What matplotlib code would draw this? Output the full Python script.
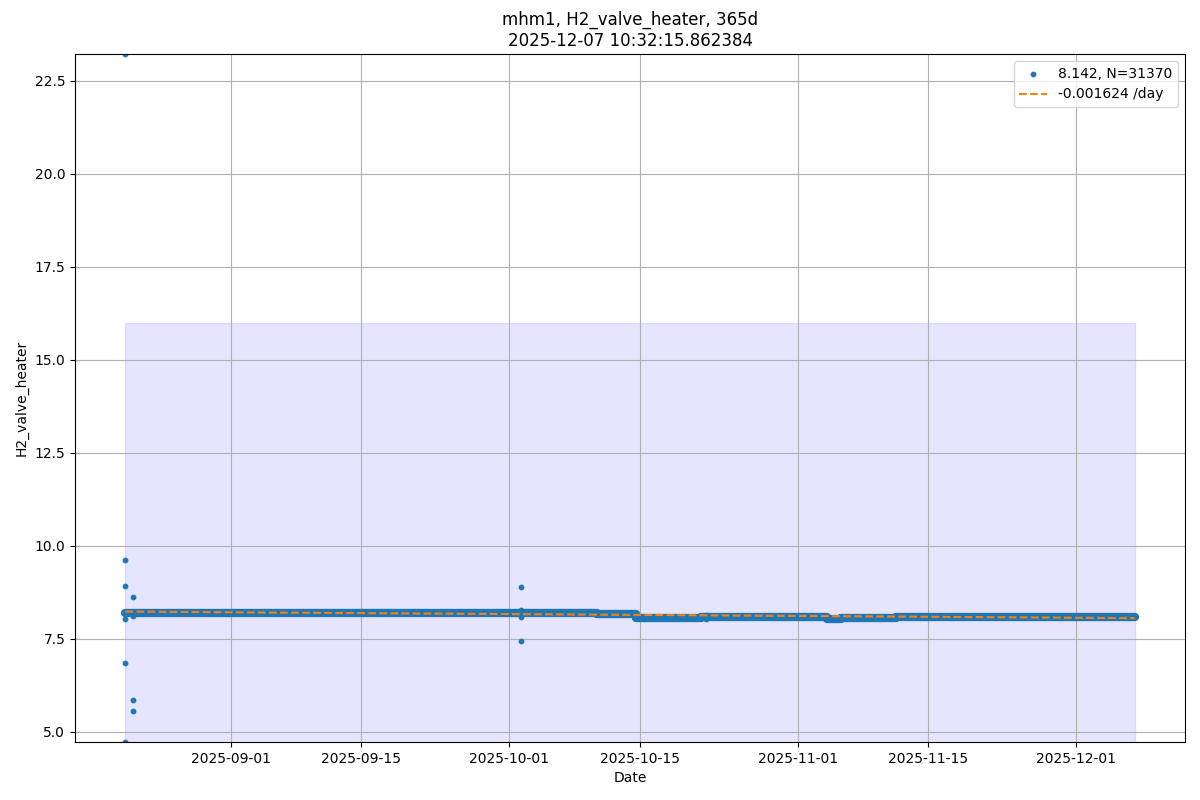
import numpy as np
import pandas as pd
import matplotlib
matplotlib.use('Agg')
import matplotlib.pyplot as plt
import matplotlib.dates as mdates

# dense 5-min readings, summarised as step levels (start of each level)
band_dates = pd.to_datetime(['2025-08-20 16:30', '2025-10-10 10:00', '2025-10-14 15:00',
                             '2025-10-21 14:00', '2025-11-04 05:00', '2025-11-05 17:00',
                             '2025-11-11 14:00', '2025-12-07 06:00'])
band_vals = [8.195, 8.17, 8.075, 8.095, 8.035, 8.065, 8.085, 8.085]

# isolated readings away from the band
out_dates = pd.to_datetime(['2025-08-20 16:30'] * 6 + ['2025-08-21 12:30'] * 4 +
                           ['2025-10-02 06:15'] * 4 + ['2025-10-22 04:00'] * 2)
out_vals = [23.22, 9.62, 8.92, 8.03, 6.85, 4.73,
            8.62, 8.11, 5.85, 5.56,
            8.89, 8.28, 8.10, 7.44,
            8.15, 8.04]

mean_val = 8.142
n_points = 31370
slope = -0.001624      # per day
fit_start = 8.235      # fit value at first sample
limit_hi = 16.0

t0 = band_dates[0]
t1 = band_dates[-1]

fig, ax = plt.subplots(figsize=(12, 8), dpi=100)
fig.subplots_adjust(left=0.0625, right=0.9875, top=0.9325, bottom=0.0725)

ax.fill_between([t0, t1], 0, limit_hi, color='b', alpha=0.1)

ax.plot(band_dates, band_vals, drawstyle='steps-post', color='tab:blue', lw=6,
        solid_capstyle='round', zorder=2)
ax.scatter(out_dates, out_vals, s=10, color='tab:blue', zorder=2,
           label='%.3f, N=%d' % (mean_val, n_points))

days = (t1 - t0).total_seconds() / 86400.0
ax.plot([t0, t1], [fit_start, fit_start + slope * days], '--', color='tab:orange',
        zorder=3, label='%.6f /day' % slope)

ax.set_ylim(min(out_vals), max(out_vals))
ax.xaxis.set_major_locator(mdates.DayLocator(bymonthday=[1, 15]))
ax.xaxis.set_major_formatter(mdates.DateFormatter('%Y-%m-%d'))
ax.grid(True)
ax.set_xlabel('Date')
ax.set_ylabel('H2_valve_heater')
ax.set_title('mhm1, H2_valve_heater, 365d\n2025-12-07 10:32:15.862384')
ax.legend(loc='upper right')

fig.savefig('out.png')
